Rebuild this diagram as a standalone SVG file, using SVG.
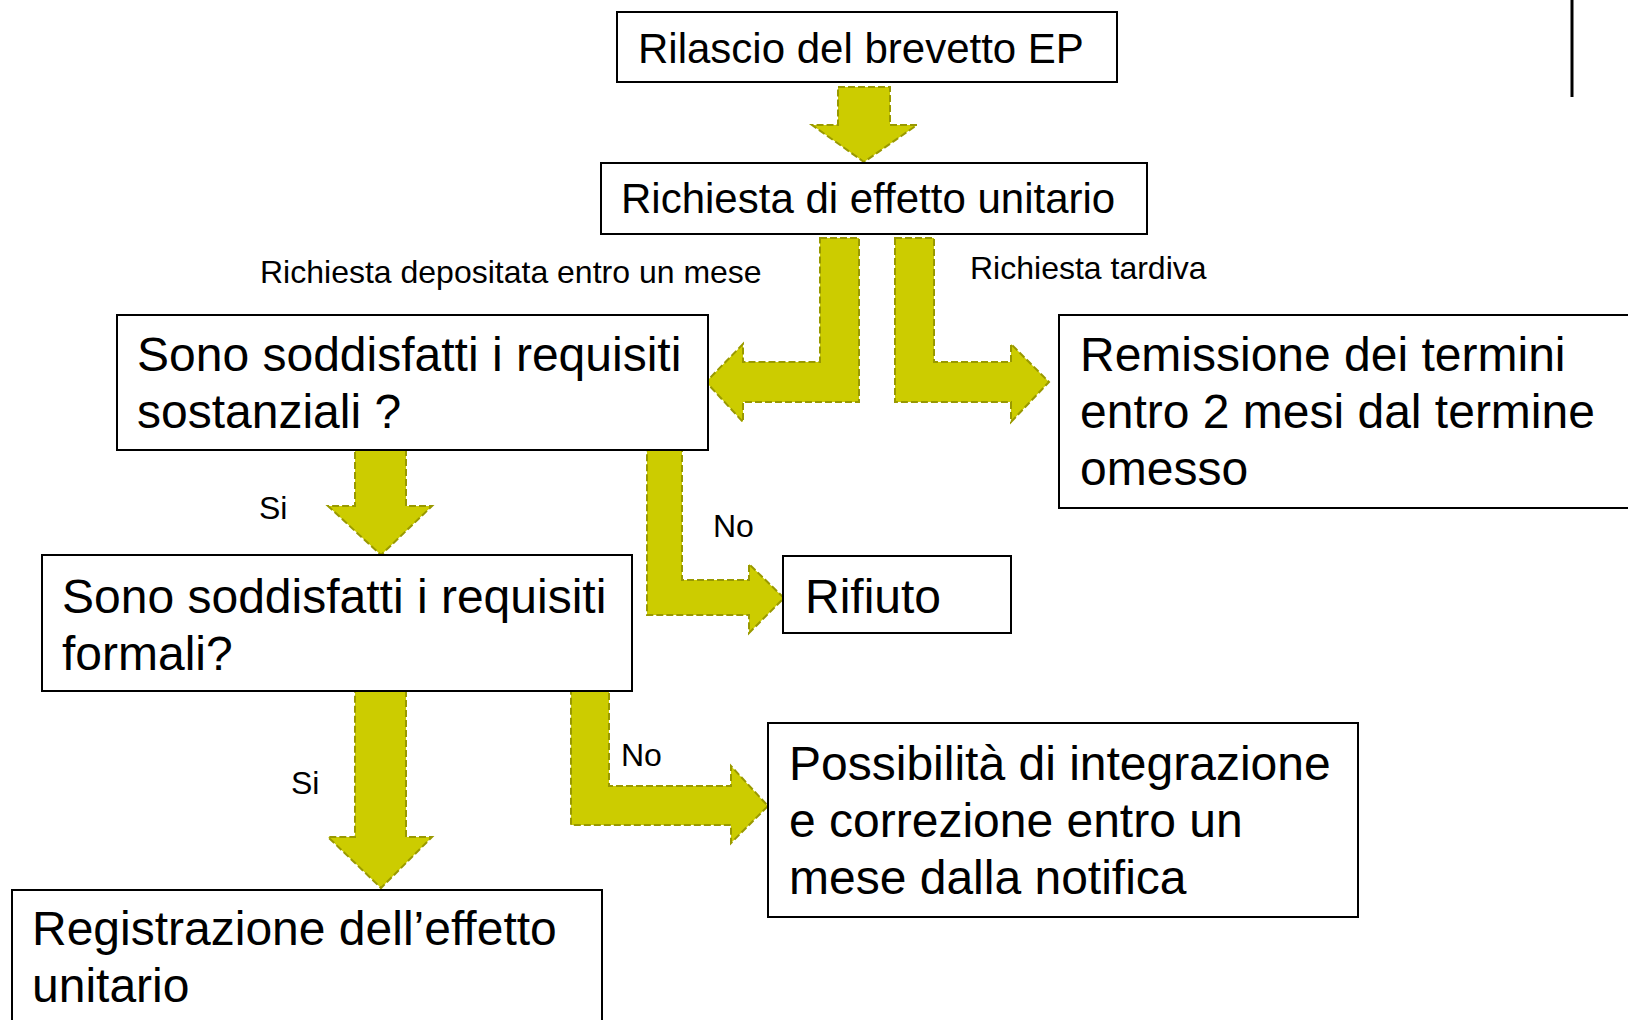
<svg xmlns="http://www.w3.org/2000/svg" width="1628" height="1020" viewBox="0 0 1628 1020">
<style>
.box{fill:#fff;stroke:#000;stroke-width:2}
.arr{fill:#cccc00;stroke:#999900;stroke-width:2;stroke-dasharray:7 3;stroke-linejoin:miter}
.t{font-family:"Liberation Sans",Arial,sans-serif;fill:#000}
.big{font-size:48px}
.mid{font-size:42px}
.lbl{font-size:32px}
</style>
<rect width="1628" height="1020" fill="#fff"/>
<line x1="1572" y1="0" x2="1572" y2="97" stroke="#000" stroke-width="3"/>
<g id="connectors">
<path class="arr" d="M838,87 H890 V125 H917 L864,162 L812,125 H838 Z"/>
<path class="arr" d="M820,238 H859 V402 H743 V422 L706,382 L743,344 V362 H820 Z"/>
<path class="arr" d="M895,238 H934 V362 H1011 V344 L1049,382 L1011,422 V402 H895 Z"/>
<path class="arr" d="M355,450 H406 V506 H432 L381,555 L328,506 H355 Z"/>
<path class="arr" d="M647,450 H682 V580 H749 V564 L784,598 L749,633 V615 H647 Z"/>
<path class="arr" d="M571,691 H609 V786 H731 V766 L768,806 L731,843 V825 H571 Z"/>
<path class="arr" d="M355,691 H406 V837 H432 L381,888 L328,837 H355 Z"/>
<text class="t lbl" x="260" y="283">Richiesta depositata entro un mese</text>
<text class="t lbl" x="970" y="279">Richiesta tardiva</text>
<text class="t lbl" x="259" y="519">Si</text>
<text class="t lbl" x="713" y="537">No</text>
<text class="t lbl" x="621" y="766">No</text>
<text class="t lbl" x="291" y="794">Si</text>
</g>
<g id="n1">
<rect class="box" x="617" y="12" width="500" height="70"/>
<text class="t mid" x="638" y="63">Rilascio del brevetto EP</text>
</g>
<g id="n2">
<rect class="box" x="601" y="163" width="546" height="71"/>
<text class="t mid" x="621" y="213">Richiesta di effetto unitario</text>
</g>
<g id="n3">
<rect class="box" x="117" y="315" width="591" height="135"/>
<text class="t big" x="137" y="371">Sono soddisfatti i requisiti</text>
<text class="t big" x="137" y="428">sostanziali ?</text>
</g>
<g id="n4">
<rect class="box" x="1059" y="315" width="600" height="193"/>
<text class="t big" x="1080" y="371">Remissione dei termini</text>
<text class="t big" x="1080" y="428">entro 2 mesi dal termine</text>
<text class="t big" x="1080" y="485">omesso</text>
</g>
<g id="n5">
<rect class="box" x="42" y="555" width="590" height="136"/>
<text class="t big" x="62" y="613">Sono soddisfatti i requisiti</text>
<text class="t big" x="62" y="670">formali?</text>
</g>
<g id="n6">
<rect class="box" x="783" y="556" width="228" height="77"/>
<text class="t big" x="805" y="613">Rifiuto</text>
</g>
<g id="n7">
<rect class="box" x="768" y="723" width="590" height="194"/>
<text class="t big" x="789" y="780">Possibilità di integrazione</text>
<text class="t big" x="789" y="837">e correzione entro un</text>
<text class="t big" x="789" y="894">mese dalla notifica</text>
</g>
<g id="n8">
<rect class="box" x="12" y="890" width="590" height="150"/>
<text class="t big" x="32" y="945">Registrazione dell’effetto</text>
<text class="t big" x="32" y="1002">unitario</text>
</g>
</svg>
